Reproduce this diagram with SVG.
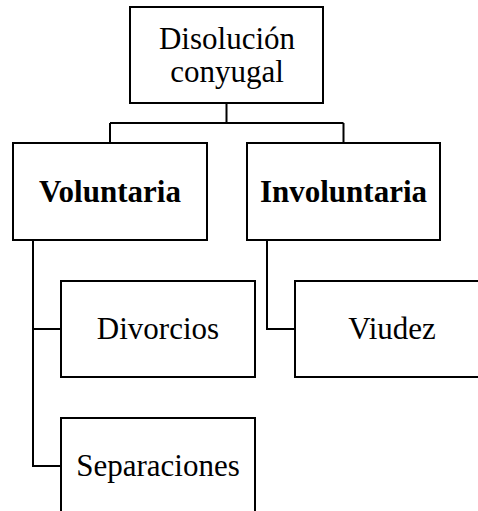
<svg xmlns="http://www.w3.org/2000/svg" width="478" height="511" viewBox="0 0 478 511">
<style>
.box{fill:#fff;stroke:#000;stroke-width:2}
.con{fill:none;stroke:#000;stroke-width:2}
text{font-family:"Liberation Serif","Times New Roman",serif;font-size:31px;fill:#000;text-anchor:middle}
.b{font-weight:bold}
</style>
<rect width="478" height="511" fill="#fff"/>
<g id="connectors">
<path class="con" d="M226.5 103V123M110 123H343.5M110 123V143M343.5 123V143"/>
<path class="con" d="M33 240V466H61M33 329H61"/>
<path class="con" d="M267 240V329H295"/>
</g>
<g id="disolucion">
<rect class="box" x="130" y="7" width="193" height="96"/>
<text x="227" y="49">Disolución</text>
<text x="227" y="82">conyugal</text>
</g>
<g id="voluntaria">
<rect class="box" x="13" y="143" width="194" height="97"/>
<text class="b" x="110" y="202">Voluntaria</text>
</g>
<g id="involuntaria">
<rect class="box" x="247" y="143" width="193" height="97"/>
<text class="b" x="343.5" y="202">Involuntaria</text>
</g>
<g id="divorcios">
<rect class="box" x="61" y="281" width="194" height="96"/>
<text x="158" y="339">Divorcios</text>
</g>
<g id="viudez">
<rect class="box" x="295" y="281" width="194" height="96"/>
<text x="392" y="339">Viudez</text>
</g>
<g id="separaciones">
<rect class="box" x="61" y="418" width="194" height="96"/>
<text x="158" y="476">Separaciones</text>
</g>
</svg>
